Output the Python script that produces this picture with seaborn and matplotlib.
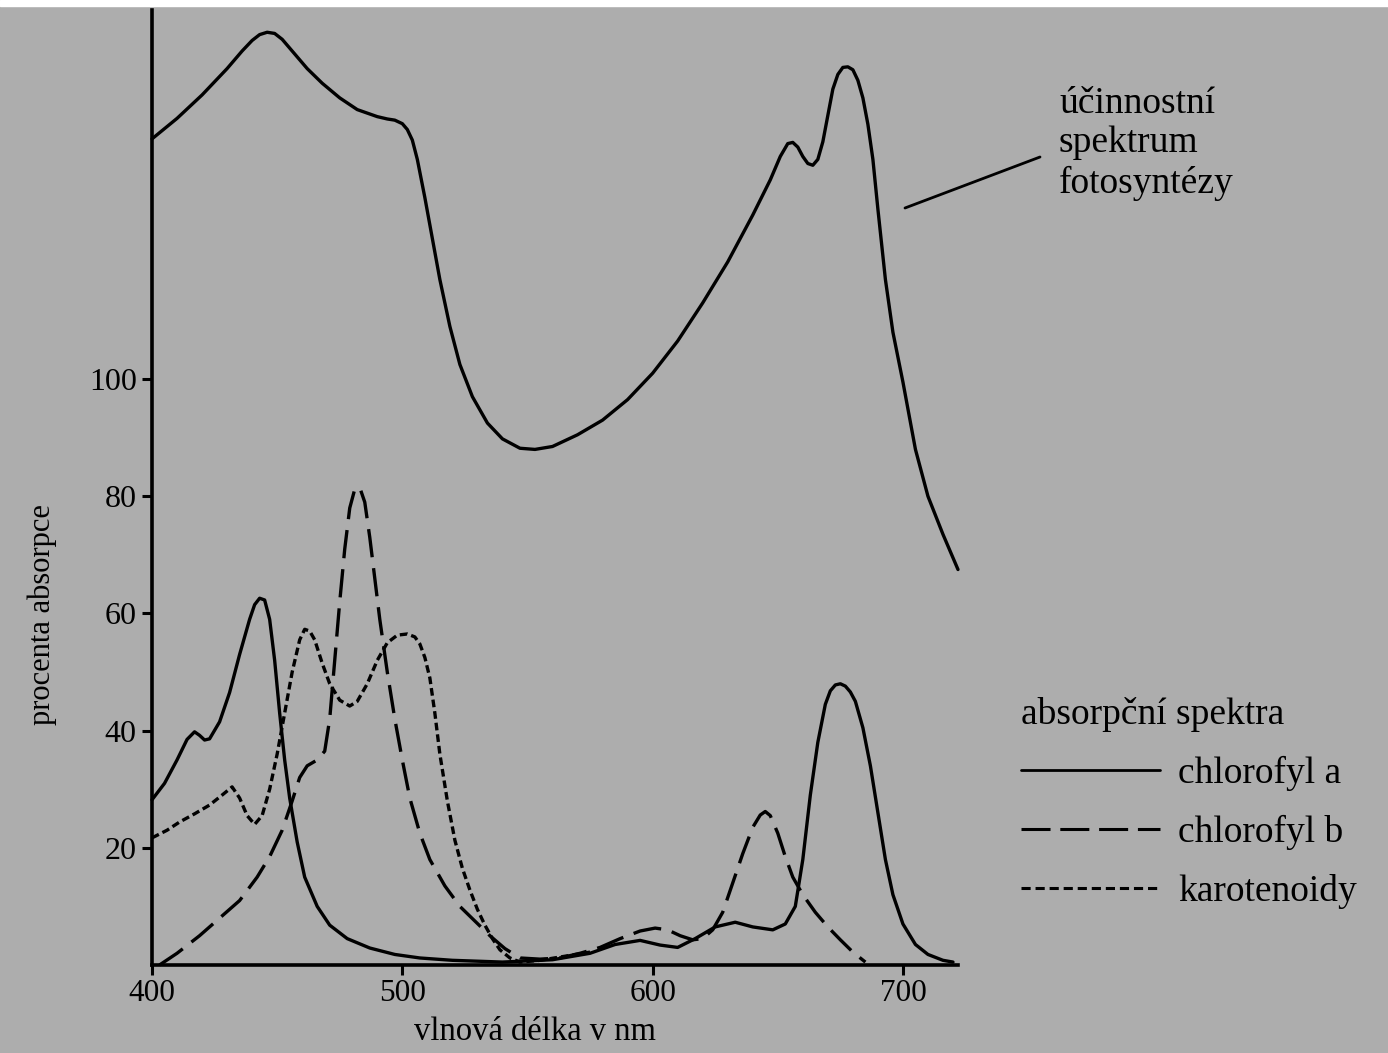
import numpy as np
import pandas as pd
import matplotlib
matplotlib.use("Agg")
import matplotlib.pyplot as plt
from matplotlib.lines import Line2D
from matplotlib.patches import Rectangle
import seaborn as sns

# ---- data (wavelength nm, percent) ----
action_wl = [400, 410, 420, 430, 436, 440, 443, 446, 449, 452, 456, 462, 468, 475, 482, 490, 494, 497,
             500, 502, 504, 506, 509, 512, 515, 519, 523, 528, 534, 540, 547, 553, 560, 570, 580, 590,
             600, 610, 620, 630, 640, 647, 651, 654, 656, 658, 660, 662, 664, 666, 668, 670, 672, 674,
             676, 678, 680, 682, 684, 686, 688, 690, 693, 696, 700, 705, 710, 716, 722]
action_val = [141, 144.5, 148.5, 153, 156, 157.8, 158.8, 159.2, 159, 158, 156, 153, 150.5, 148, 146, 144.8, 144.4, 144.2,
              143.6, 142.6, 140.8, 137.5, 131, 124, 117, 109, 102.5, 97, 92.5, 89.8, 88.2, 88, 88.5, 90.5, 93, 96.5,
              101, 106.5, 113, 120, 128, 134, 138, 140.2, 140.4, 139.6, 138, 136.8, 136.5, 137.5, 140.5, 145, 149.5, 152,
              153.2, 153.3, 152.8, 151, 148, 143.5, 137.5, 129, 117, 108, 99.5, 88, 80, 73.5, 67.5]

chla_wl = [400, 405, 410, 414, 417, 419, 421, 423, 427, 431, 435, 439, 441, 443, 445, 447, 449, 451, 453,
           455, 458, 461, 466, 471, 478, 487, 497, 507, 520, 540, 560, 575, 585, 595, 603, 610, 617, 625,
           633, 640, 648, 653, 657, 660, 663, 666, 669, 671, 673, 675, 677, 679, 681, 684, 687, 690, 693,
           696, 700, 705, 710, 716, 720]
chla_val = [28.2, 31, 35, 38.5, 39.8, 39.2, 38.4, 38.6, 41.5, 46.5, 53, 59, 61.5, 62.6, 62.3, 59, 52, 43, 35,
            28.5, 21, 15, 10, 6.8, 4.5, 2.9, 1.8, 1.2, 0.8, 0.5, 0.9, 2.0, 3.5, 4.2, 3.4, 3.0, 4.5, 6.5,
            7.3, 6.5, 6.0, 7.0, 10, 18, 29, 38, 44.5, 46.8, 47.8, 48, 47.6, 46.6, 45, 40.5, 34, 26, 18,
            12, 7, 3.5, 1.8, 0.8, 0.5]

chlb_wl = [403, 410, 419, 427, 435, 442, 447, 452, 456, 459, 462, 466, 469, 471, 473, 475, 477, 479,
           481, 483, 485, 487, 489, 491, 494, 497, 500, 503, 507, 511, 517, 523, 529, 535, 541, 547,
           555, 563, 571, 579, 587, 595, 601, 606, 611, 616, 620, 624, 628, 632, 636, 640, 643, 645,
           647, 650, 653, 656, 660, 665, 670, 675, 680, 685]
chlb_val = [0, 2, 5, 8, 11, 15, 18.5, 23, 28, 32, 34, 35, 36.5, 42, 52, 62, 71, 78,
            81.2, 81.5, 79, 73, 66, 59, 50, 42, 35, 28.5, 22.5, 18, 13.5, 10, 7.5, 5, 2.8, 1.2,
            1, 1.2, 2, 3, 4.5, 5.8, 6.3, 6, 5, 4.3, 4.5, 6, 9, 14, 19, 23.5, 25.6, 26.2,
            25.5, 22.5, 18.5, 15, 12, 9, 6.5, 4.3, 2.2, 0.5]

car_wl = [400, 406, 411, 417, 423, 428, 432, 435, 438, 441, 444, 447, 450, 453, 456, 459, 461, 463, 465,
          468, 471, 475, 479, 482, 486, 490, 494, 498, 502, 505, 507, 509, 511, 513, 515, 518, 521, 524,
          527, 530, 533, 536, 539, 543, 547, 555, 565, 575]
car_val = [21.7, 23, 24.4, 25.8, 27.3, 29, 30.4, 28.5, 25.5, 24, 25.5, 30, 36, 43, 50, 55.5, 57.3, 57, 55.5,
           51.5, 48, 45.2, 44.2, 45, 48, 52, 55, 56.3, 56.5, 56, 54.8, 52.5, 49, 43, 36, 28, 21.3, 16.5,
           12.8, 9.5, 6.8, 4.5, 2.6, 1.2, 0.5, 0.8, 1.5, 2.2]

x_ticks = [400, 500, 600, 700]
y_ticks = [20, 40, 60, 80, 100]
legend_labels = ["chlorofyl a", "chlorofyl b", "karotenoidy"]

# ---- style ----
BG = "#adadad"
sns.set_theme(style="ticks")
plt.rcParams["font.family"] = ["Liberation Serif", "DejaVu Serif"]
plt.rcParams["text.color"] = "black"
plt.rcParams["axes.labelcolor"] = "black"
plt.rcParams["xtick.color"] = "black"
plt.rcParams["ytick.color"] = "black"
plt.rcParams["legend.labelcolor"] = "black"

W, H = 1388, 1053
fig = plt.figure(figsize=(W / 100, H / 100), dpi=100, facecolor=BG)
ax = fig.add_axes([152 / W, 1 - 965 / H, (958 - 152) / W, (965 - 10) / H])
ax.set_facecolor(BG)

LW = 2.4
sns.lineplot(x=action_wl, y=action_val, ax=ax, color="black", lw=LW, legend=False, sort=False)
sns.lineplot(x=chla_wl, y=chla_val, ax=ax, color="black", lw=LW, legend=False, sort=False)
sns.lineplot(x=chlb_wl, y=chlb_val, ax=ax, color="black", lw=LW, legend=False, sort=False)
sns.lineplot(x=car_wl, y=car_val, ax=ax, color="black", lw=LW, legend=False, sort=False)

ax.lines[2].set_dashes((8.5, 3.3))
ax.lines[3].set_dashes((2.3, 1.2))
for ln in ax.lines:
    ln.set_clip_on(False)
    ln.set_solid_joinstyle("round")

ax.set_xlim(400, 722)
ax.set_ylim(0, 163)
ax.set_xticks(x_ticks)
ax.set_yticks(y_ticks)
ax.set_xticklabels([str(v) for v in x_ticks], fontsize=22.5)
ax.set_yticklabels([str(v) for v in y_ticks], fontsize=23)
ax.tick_params(axis="x", length=7, width=2.2, pad=3, colors="black")
ax.tick_params(axis="y", length=7, width=2.2, pad=4, colors="black")
for side in ["top", "right"]:
    ax.spines[side].set_visible(False)
for side in ["left", "bottom"]:
    ax.spines[side].set_linewidth(2.6)
    ax.spines[side].set_color("black")

ax.set_xlabel("vlnová délka v nm", fontsize=23.5, color="black")
ax.xaxis.set_label_coords((535 - 152) / (958 - 152), -(1032 - 965) / (965 - 10), transform=ax.transAxes)
ax.set_ylabel("procenta absorpce", fontsize=22, color="black")
ax.yaxis.set_label_coords(-(152 - 42) / (958 - 152), (965 - 615) / (965 - 10), transform=ax.transAxes)
ax.xaxis.label.set_va("center")
ax.yaxis.label.set_va("center")

# annotation for action spectrum
fig.add_artist(Line2D([905 / W, 1040 / W], [1 - 208 / H, 1 - 157 / H], color="black", lw=2.0,
                      transform=fig.transFigure))
fig.text(1059 / W, 1 - 86 / H, "účinnostní\nspektrum\nfotosyntézy", fontsize=27, va="top", ha="left",
         linespacing=1.2, color="black")

# legend
handles = [Line2D([], [], color="black", lw=2.0),
           Line2D([], [], color="black", lw=2.2, dashes=(9.5, 3.2)),
           Line2D([], [], color="black", lw=2.2, dashes=(3.0, 1.6))]
leg = fig.legend(handles, legend_labels, title="absorpční spektra", loc="upper left",
                 bbox_to_anchor=(1021 / W, 1 - 697 / H), bbox_transform=fig.transFigure,
                 frameon=False, fontsize=27, title_fontsize=27, handlelength=3.7,
                 handletextpad=0.48, labelspacing=0.64, borderpad=0, borderaxespad=0,
                 alignment="left")
leg.get_title().set_color("black")
for t in leg.get_texts():
    t.set_color("black")

# white strip at the very top of the scan
fig.add_artist(Rectangle((0, 1 - 6 / H), 1, 6 / H, transform=fig.transFigure, color="white", zorder=-1))

fig.savefig("out.png", dpi=100, facecolor=BG)
